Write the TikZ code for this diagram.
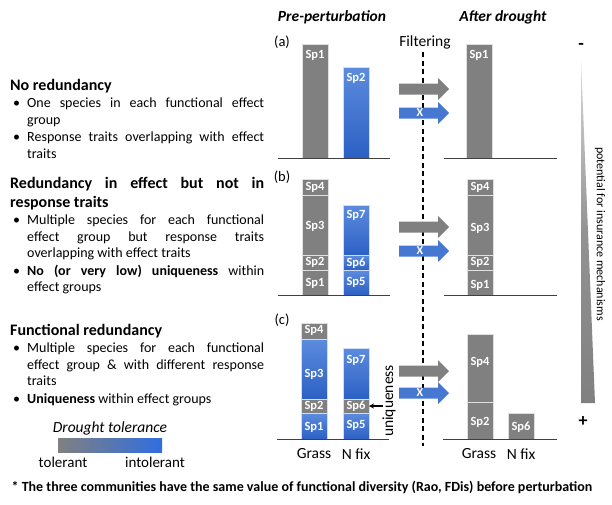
\documentclass[tikz,border=0pt]{standalone}
\usepackage{fontspec}
\setmainfont{Carlito}
\usetikzlibrary{arrows.meta}
\setlength{\parindent}{0pt}

\definecolor{bargray}{RGB}{128,128,128}
\definecolor{bluetop}{RGB}{92,140,222}
\definecolor{bluebot}{RGB}{44,96,196}
\definecolor{arrowblue}{RGB}{70,120,210}
\definecolor{legendblue}{RGB}{48,110,224}

\newcommand{\titlesize}{\fontsize{16}{19}\selectfont}
\newcommand{\bodysize}{\fontsize{14}{16.5}\selectfont}
\newcommand{\bitem}{\par\vspace{1pt}\noindent\hangindent=17pt\hangafter=1\makebox[17pt][l]{\hspace{3pt}\textbullet}}

% one species segment of a stacked bar
\newcommand{\spbar}[7]{%
  \node[#2, anchor=north west, minimum width=26pt, minimum height={(#5-#4)*1pt}] (#1) at (#3,#4) {};
  \node[splabel] (#1-lab) at (#3+13,#7) {#6};
}
% block arrow through the filter
\newcommand{\filtarrow}[4]{%
  \fill[#3] (399,#2-5.5) -- (438,#2-5.5) -- (438,#2-11) -- (449,#2) -- (438,#2+11) -- (438,#2+5.5) -- (399,#2+5.5) -- cycle;
  \node[arrowmark] (#1) at (420,#2) {#4};
}

\tikzset{
  grayseg/.style={fill=bargray, draw=white!75!bargray, line width=0.7pt, inner sep=0pt, outer sep=0pt},
  blueseg/.style={top color=bluetop, bottom color=bluebot, draw=white!70!bluetop, line width=0.7pt, inner sep=0pt, outer sep=0pt},
  splabel/.style={text=white, font=\bfseries\fontsize{12.5}{15}\selectfont, inner sep=0pt},
  arrowmark/.style={text=white, font=\bfseries\fontsize{12}{14}\selectfont, inner sep=0pt},
  ground/.style={draw=black!75, line width=0.9pt},
  head/.style={font=\bfseries\itshape\fontsize{15.5}{18}\selectfont},
  panel/.style={font=\fontsize{14.5}{17}\selectfont},
  axislab/.style={font=\fontsize{15.5}{18}\selectfont},
  textblock/.style={anchor=north west, inner sep=0pt, text width=254pt, align=justify}
}

\begin{document}
\begin{tikzpicture}[x=1pt, y=-1pt]
\useasboundingbox (0,0) rectangle (612,504);

% left-hand descriptions
\node[textblock] (nored) at (10,79) {\titlesize\bfseries No redundancy\par\bodysize\mdseries
  \bitem One species in each functional effect\linebreak group
  \bitem Response traits overlapping with effect\linebreak traits\par};
\node[textblock] (effred) at (10,177) {\titlesize\bfseries Redundancy in effect but not in\linebreak response traits\par\bodysize\mdseries
  \bitem Multiple species for each functional\linebreak effect group but response traits\linebreak overlapping with effect traits
  \bitem \textbf{No (or very low) uniqueness} within\linebreak effect groups\par};
\node[textblock] (funred) at (10,324) {\titlesize\bfseries Functional redundancy\par\bodysize\mdseries
  \bitem Multiple species for each functional\linebreak effect group \& with different response\linebreak traits
  \bitem \textbf{Uniqueness} within effect groups\par};

% legend
\node[axislab, font=\itshape\fontsize{15.5}{18}\selectfont] (legtitle) at (110,428) {Drought tolerance};
\shade[left color=bargray, right color=legendblue] (58,438) rectangle (162,452);
\node[axislab, font=\fontsize{15}{18}\selectfont] (tol) at (63,462) {tolerant};
\node[axislab, font=\fontsize{15}{18}\selectfont] (intol) at (155,462) {intolerant};

% headers
\node[head] (pre) at (332,17) {Pre-perturbation};
\node[head] (post) at (503,17) {After drought};
\node[panel] (pa) at (282,42) {(a)};
\node[panel] (pb) at (282,177) {(b)};
\node[panel] (pc) at (282,320) {(c)};

% filter
\node[axislab] (filt) at (425,42) {Filtering};
\coordinate (filtend) at (423,446);
\draw[dashed, line width=1.1pt, dash pattern=on 5pt off 3.5pt] (filt.south -| filtend) -- (filtend);

% (a)
\spbar{ag1}{grayseg}{302}{44}{158}{Sp1}{55}
\spbar{an2}{blueseg}{343}{67}{158}{Sp2}{78}
\spbar{ad1}{grayseg}{466}{44}{158}{Sp1}{55}
\draw[ground] (278,158) -- (390,158);
\draw[ground] (444,158) -- (557,158);
\filtarrow{aga}{89}{bargray}{}
\filtarrow{aba}{113}{arrowblue}{X}

% (b)
\spbar{bg4}{grayseg}{302}{179}{195}{Sp4}{187}
\spbar{bg3}{grayseg}{302}{195}{255}{Sp3}{226}
\spbar{bg2}{grayseg}{302}{255}{270}{Sp2}{262}
\spbar{bg1}{grayseg}{302}{270}{295}{Sp1}{283}
\spbar{bn7}{blueseg}{343}{205}{255}{Sp7}{215}
\spbar{bn6}{blueseg}{343}{255}{270}{Sp6}{263}
\spbar{bn5}{blueseg}{343}{270}{295}{Sp5}{282}
\spbar{bd4}{grayseg}{467}{179}{195}{Sp4}{187}
\spbar{bd3}{grayseg}{467}{195}{255}{Sp3}{228}
\spbar{bd2}{grayseg}{467}{255}{270}{Sp2}{262}
\spbar{bd1}{grayseg}{467}{270}{295}{Sp1}{285}
\draw[ground] (278,295) -- (390,295);
\draw[ground] (444,295) -- (557,295);
\filtarrow{bga}{227}{bargray}{}
\filtarrow{bba}{251}{arrowblue}{X}

% (c)
\spbar{cg4}{grayseg}{301}{323}{339}{Sp4}{330}
\spbar{cg3}{blueseg}{301}{339}{399}{Sp3}{374}
\spbar{cg2}{grayseg}{301}{399}{413}{Sp2}{406}
\spbar{cg1}{blueseg}{301}{413}{439}{Sp1}{427}
\spbar{cn7}{blueseg}{343}{348}{399}{Sp7}{360}
\spbar{cn6}{grayseg}{343}{399}{413}{Sp6}{406}
\spbar{cn5}{blueseg}{343}{413}{439}{Sp5}{425}
\spbar{cd4}{grayseg}{467}{334}{402}{Sp4}{362}
\spbar{cd2}{grayseg}{467}{402}{439}{Sp2}{422}
\spbar{cd6}{grayseg}{508}{413}{439}{Sp6}{427}
\draw[ground] (277,439) -- (389,439);
\draw[ground] (443,439) -- (557,439);
\filtarrow{cga}{371}{bargray}{}
\filtarrow{cba}{393}{arrowblue}{X}

\node[axislab, rotate=90] (uniq) at (389,401) {uniqueness};
\coordinate (uniqstart) at (383,406);
\draw[-{Stealth[length=5pt,width=5pt]}, line width=1.3pt] (uniqstart) -- (cn6.east);

\node[axislab] (grass1) at (314,454) {Grass};
\node[axislab] (nfix1) at (356,454) {N fix};
\node[axislab] (grass2) at (479,454) {Grass};
\node[axislab] (nfix2) at (521,454) {N fix};

% insurance wedge
\shade[top color=white!70!bargray, bottom color=bargray, middle color=bargray!85] (581,60) -- (595,403) -- (581,403) -- cycle;
\node[font=\bfseries\fontsize{18}{20}\selectfont] (minus) at (581,46) {-};
\node[font=\bfseries\fontsize{18}{20}\selectfont] (plus) at (583,422) {+};
\node[rotate=-90, font=\fontsize{12}{14}\selectfont] (insur) at (600,234) {potential for insurance mechanisms};

% footnote
\node[font=\bfseries\fontsize{14}{17}\selectfont] (note) at (302,487) {* The three communities have the same value of functional diversity (Rao, FDis) before perturbation};
\end{tikzpicture}
\end{document}
